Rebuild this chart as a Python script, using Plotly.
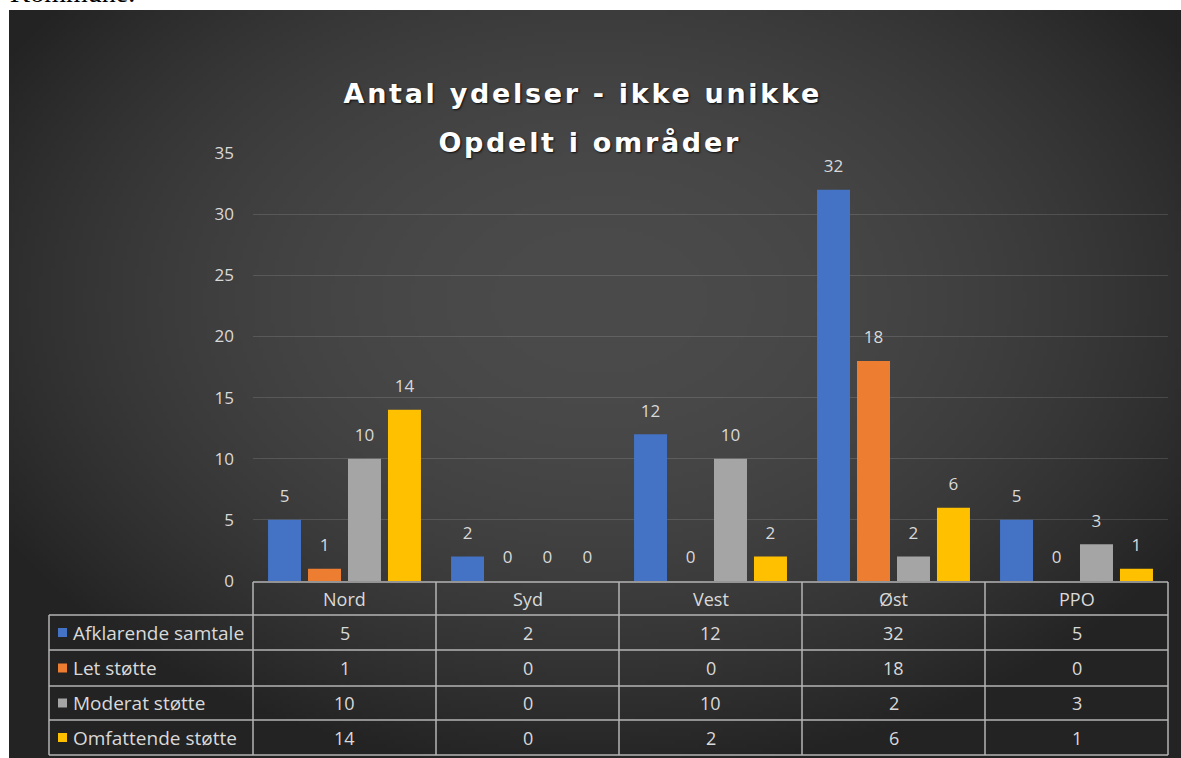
import plotly.graph_objects as go
import numpy as np
import zlib, struct, base64

# ---------------- data ----------------
categories = ["Nord", "Syd", "Vest", "Øst", "PPO"]
series_names = ["Afklarende samtale", "Let støtte", "Moderat støtte", "Omfattende støtte"]
afklarende = [5, 2, 12, 32, 5]
let_stotte = [1, 0, 0, 18, 0]
moderat = [10, 0, 10, 2, 3]
omfattende = [14, 0, 2, 6, 1]
series_values = [afklarende, let_stotte, moderat, omfattende]
colors = ["#4472C4", "#ED7D31", "#A5A5A5", "#FFC000"]
y_ticks = [0, 5, 10, 15, 20, 25, 30, 35]
title_lines = ["Antal ydelser - ikke unikke", "Opdelt i områder"]
page_text = "Kommune."

# ---------------- geometry (pixels) ----------------
W, H = 1181, 758
L, R, T, B = 253, 1168, 153, 581


def px(x):
    return (x - L) / (R - L)


def py(y):
    return (B - y) / (B - T)


# ---------------- background gradient image ----------------
def png_data_uri(arr):
    h, w, _ = arr.shape
    raw = b"".join(b"\x00" + arr[r].tobytes() for r in range(h))

    def chunk(t, d):
        c = struct.pack(">I", len(d)) + t + d
        return c + struct.pack(">I", zlib.crc32(t + d) & 0xFFFFFFFF)

    png = (b"\x89PNG\r\n\x1a\n"
           + chunk(b"IHDR", struct.pack(">IIBBBBB", w, h, 8, 2, 0, 0, 0))
           + chunk(b"IDAT", zlib.compress(raw, 9))
           + chunk(b"IEND", b""))
    return "data:image/png;base64," + base64.b64encode(png).decode()


bg_x0, bg_y0, bg_x1, bg_y1 = 9, 10, W, H
gw, gh = 293, 187
xs = np.linspace(bg_x0, bg_x1, gw)
ys = np.linspace(bg_y0, bg_y1, gh)
XX, YY = np.meshgrid(xs, ys)
d2 = ((XX - 600) / 700.0) ** 2 + ((YY - 300) / 480.0) ** 2
d2 = np.clip(d2, 0, 1)
val = 75 - 40 * d2
img = np.repeat(val[:, :, None], 3, axis=2).astype(np.uint8)
bg_uri = png_data_uri(img)

# ---------------- figure ----------------
fig = go.Figure()
TXT = "#d9d9d9"
FONT = "Open Sans, sans-serif"
BARGAP = 0.126

for i, (name, vals, col) in enumerate(zip(series_names, series_values, colors)):
    fig.add_trace(go.Bar(
        x=categories, y=vals, name=name, marker=dict(color=col, line=dict(width=0)),
        offsetgroup=str(i), showlegend=False, hoverinfo="skip",
    ))
# value labels, grouped the same way as the bars
for i, (name, vals) in enumerate(zip(series_names, series_values)):
    fig.add_trace(go.Scatter(
        x=categories, y=vals, name=name + " label", mode="markers+text",
        text=[str(v) for v in vals], textposition="top center",
        textfont=dict(family=FONT, size=17, color=TXT),
        marker=dict(size=20, color="rgba(0,0,0,0)"),
        offsetgroup=str(i), cliponaxis=False, showlegend=False, hoverinfo="skip",
    ))

shapes = []
annotations = []

# table lines
ncat = len(categories)
col_w = (R - L) / ncat
line_style = dict(color="#b4b4b4", width=1.5)
row_tops = [582, 615, 650, 686, 720, 755]
tab_left = 49
shapes.append(dict(type="line", xref="paper", yref="paper", x0=px(L), x1=px(R),
                   y0=py(row_tops[0]), y1=py(row_tops[0]), line=line_style))
for yy in row_tops[1:]:
    shapes.append(dict(type="line", xref="paper", yref="paper", x0=px(tab_left), x1=px(R),
                       y0=py(yy), y1=py(yy), line=line_style))
for i in range(ncat + 1):
    xx = L + i * col_w
    shapes.append(dict(type="line", xref="paper", yref="paper", x0=px(xx), x1=px(xx),
                       y0=py(row_tops[0]), y1=py(row_tops[-1]), line=line_style))
shapes.append(dict(type="line", xref="paper", yref="paper", x0=px(tab_left), x1=px(tab_left),
                   y0=py(row_tops[1]), y1=py(row_tops[-1]), line=line_style))

table_font = dict(family=FONT, size=18, color=TXT)
legend_font = dict(family=FONT, size=19, color=TXT)
hc = (row_tops[0] + row_tops[1]) / 2
for c in categories:
    annotations.append(dict(xref="x", yref="paper", x=c, y=py(hc), text=c, showarrow=False,
                            font=table_font, xanchor="center", yanchor="middle"))
for r, (name, vals, col) in enumerate(zip(series_names, series_values, colors)):
    rc = (row_tops[r + 1] + row_tops[r + 2]) / 2
    shapes.append(dict(type="rect", xref="paper", yref="paper", x0=px(58), x1=px(67),
                       y0=py(rc + 4.5), y1=py(rc - 4.5), fillcolor=col, line=dict(width=0)))
    annotations.append(dict(xref="paper", yref="paper", x=px(71), y=py(rc), text=name,
                            showarrow=False, font=legend_font, xanchor="left", yanchor="middle"))
    for c, v in zip(categories, vals):
        annotations.append(dict(xref="x", yref="paper", x=c, y=py(rc), text=str(v),
                                showarrow=False, font=table_font, xanchor="center", yanchor="middle"))

# title
title_font = dict(family="DejaVu Sans, Verdana, sans-serif", size=27, color="#ffffff",
                  weight="bold", shadow="1px 1px 2px rgba(0,0,0,0.8)")
for line, xc, yc in zip(title_lines, [582, 590], [93, 142]):
    annotations.append(dict(xref="paper", yref="paper", x=px(xc), y=py(yc), text=line,
                            showarrow=False, font=title_font, xanchor="center", yanchor="middle"))

# cut-off page text at top
annotations.append(dict(xref="paper", yref="paper", x=px(8), y=py(9.8), text=page_text,
                        showarrow=False, xanchor="left", yanchor="bottom",
                        font=dict(family="Liberation Serif, serif", size=28, color="#000000")))

fig.update_layout(
    width=W, height=H,
    margin=dict(l=L, r=W - R, t=T, b=H - B, pad=0),
    paper_bgcolor="#ffffff", plot_bgcolor="rgba(0,0,0,0)",
    barmode="group", bargap=BARGAP, bargroupgap=0.175,
    scattermode="group", scattergap=BARGAP,
    shapes=shapes, annotations=annotations,
    images=[dict(source=bg_uri, xref="paper", yref="paper",
                 x=px(bg_x0), y=py(bg_y0), sizex=px(bg_x1) - px(bg_x0), sizey=py(bg_y0) - py(bg_y1),
                 xanchor="left", yanchor="top", sizing="stretch", layer="below")],
    xaxis=dict(showticklabels=False, showgrid=False, zeroline=False, showline=False,
               ticks="", fixedrange=True),
    yaxis=dict(range=[0, 35], tickvals=y_ticks, showgrid=True, gridcolor="rgba(255,255,255,0.13)",
               gridwidth=1, zeroline=False, showline=False, ticks="",
               tickfont=dict(family=FONT, size=17, color=TXT),
               ticklabelstandoff=18, fixedrange=True),
    font=dict(family=FONT),
    hovermode=False,
)

post = """
document.body.style.margin='0';
var gd = document.getElementById('{plot_id}');
gd.querySelectorAll('text.annotation-text').forEach(function(t){
  var s = t.textContent;
  if (s.indexOf('Antal') === 0 || s.indexOf('Opdelt') === 0) { t.style.letterSpacing = '2.7px'; }
});
"""

fig.write_html("out.html", config={"displayModeBar": False}, post_script=post)
